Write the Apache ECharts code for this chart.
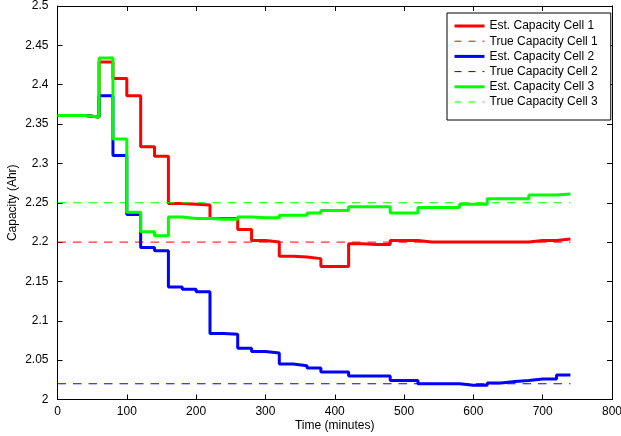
<!DOCTYPE html>
<html>
<head>
<meta charset="utf-8">
<script src="https://cdn.jsdelivr.net/npm/echarts@6/dist/echarts.min.js"></script>
<style>
  html, body { margin: 0; padding: 0; background: #fff; }
  #chart { width: 621px; height: 436px; }
</style>
</head>
<body>
<div id="chart"></div>
<script>
// time stamps (minutes), one estimate every 20 min
const times = [0, 20, 40, 60, 80, 100, 120, 140, 160, 180, 200, 220, 240, 260, 280, 300, 320, 340, 360,
  380, 400, 420, 440, 460, 480, 500, 520, 540, 560, 580, 600, 620, 640, 660, 680, 700, 720, 740];

// estimated capacity (Ahr) per cell
const estCell1 = [2.361, 2.361, 2.359, 2.429, 2.408, 2.386, 2.321, 2.309, 2.249, 2.248, 2.247, 2.230, 2.230,
  2.216, 2.202, 2.200, 2.182, 2.181, 2.179, 2.169, 2.169, 2.198, 2.197, 2.197, 2.202, 2.202, 2.200, 2.200,
  2.200, 2.200, 2.200, 2.200, 2.200, 2.200, 2.202, 2.202, 2.204, 2.204];
const estCell2 = [2.361, 2.361, 2.359, 2.386, 2.310, 2.235, 2.193, 2.189, 2.143, 2.140, 2.137, 2.084, 2.083,
  2.065, 2.061, 2.059, 2.045, 2.043, 2.040, 2.035, 2.035, 2.030, 2.030, 2.030, 2.024, 2.024, 2.020, 2.020,
  2.020, 2.018, 2.018, 2.021, 2.023, 2.024, 2.026, 2.026, 2.031, 2.031];
const estCell3 = [2.361, 2.361, 2.359, 2.434, 2.331, 2.238, 2.213, 2.208, 2.232, 2.230, 2.230, 2.229, 2.229,
  2.232, 2.231, 2.231, 2.234, 2.234, 2.237, 2.240, 2.240, 2.245, 2.245, 2.245, 2.237, 2.237, 2.244, 2.244,
  2.244, 2.248, 2.248, 2.255, 2.255, 2.255, 2.260, 2.260, 2.261, 2.261];

// true capacity (Ahr) per cell, drawn over the time span
const trueCapacity = [2.20, 2.02, 2.25];
const trueSpan = [0, 740];

const seriesNames = [
  'Est. Capacity Cell 1', 'True Capacity Cell 1',
  'Est. Capacity Cell 2', 'True Capacity Cell 2',
  'Est. Capacity Cell 3', 'True Capacity Cell 3'
];
const cellColors = ['#ff0000', '#0000ff', '#00ff00'];

const chart = echarts.init(document.getElementById('chart'), null, { renderer: 'canvas' });

const FONT = 'Liberation Sans, Arial, sans-serif';
const fmt = v => String(parseFloat(v.toFixed(2)));

const estimates = [estCell1, estCell2, estCell3];
const series = [];
estimates.forEach((vals, i) => {
  series.push({
    name: seriesNames[i * 2],
    type: 'line',
    step: 'end',
    symbol: 'none',
    data: times.map((t, k) => [t, vals[k]]),
    lineStyle: { color: cellColors[i], width: 3 },
    itemStyle: { color: cellColors[i] },
    z: 2 + i
  });
  series.push({
    name: seriesNames[i * 2 + 1],
    type: 'line',
    symbol: 'none',
    data: trueSpan.map(t => [t, trueCapacity[i]]),
    lineStyle: { color: cellColors[i], width: 1, type: [8.5, 7] },
    itemStyle: { color: cellColors[i] },
    z: 2
  });
});

// legend entries: thick solid for estimates, thin dashed for true values
const legendData = seriesNames.map((name, k) => ({
  name,
  lineStyle: k % 2 === 0 ? { width: 3, type: 'solid' } : { width: 1, type: [7, 7] }
}));

const baseX = {
  type: 'value',
  min: 0,
  max: 800,
  interval: 100,
  axisLine: { show: true, onZero: false, lineStyle: { color: '#000', width: 1 } },
  axisTick: { show: true, inside: true, length: 5, lineStyle: { color: '#000' } },
  splitLine: { show: false }
};
const baseY = {
  type: 'value',
  min: 2,
  max: 2.5,
  interval: 0.05,
  axisLine: { show: true, onZero: false, lineStyle: { color: '#000', width: 1 } },
  axisTick: { show: true, inside: true, length: 5, lineStyle: { color: '#000' } },
  splitLine: { show: false }
};

const option = {
  animation: false,
  backgroundColor: '#fff',
  textStyle: { fontFamily: FONT },
  grid: { left: 57.5, right: 9, top: 6, bottom: 36.5, outerBoundsMode: 'none' },
  xAxis: [
    Object.assign({}, baseX, {
      position: 'bottom',
      name: 'Time (minutes)',
      nameLocation: 'middle',
      nameGap: 20,
      nameMoveOverlap: false,
      nameTextStyle: { color: '#000', fontSize: 12, fontFamily: FONT },
      axisLabel: { color: '#000', fontSize: 12, fontFamily: FONT, margin: 6, formatter: fmt }
    }),
    Object.assign({}, baseX, { position: 'top', axisLabel: { show: false } })
  ],
  yAxis: [
    Object.assign({}, baseY, {
      position: 'left',
      name: 'Capacity (Ahr)',
      nameLocation: 'middle',
      nameGap: 39,
      nameMoveOverlap: false,
      nameTextStyle: { color: '#000', fontSize: 12, fontFamily: FONT },
      axisLabel: { color: '#000', fontSize: 12, fontFamily: FONT, margin: 9, formatter: fmt }
    }),
    Object.assign({}, baseY, { position: 'right', axisLabel: { show: false } })
  ],
  legend: {
    data: legendData,
    orient: 'vertical',
    left: 447,
    top: 13,
    padding: [7, 13, 12, 6],
    itemGap: 3.2,
    itemWidth: 30,
    itemHeight: 14,
    backgroundColor: '#fff',
    borderColor: '#000',
    borderWidth: 1,
    borderRadius: 0,
    itemStyle: { color: 'rgba(0,0,0,0)', borderColor: 'rgba(0,0,0,0)', borderWidth: 0 },
    textStyle: { color: '#000', fontSize: 12, fontFamily: FONT }
  },
  series
};

chart.setOption(option);
</script>
</body>
</html>
